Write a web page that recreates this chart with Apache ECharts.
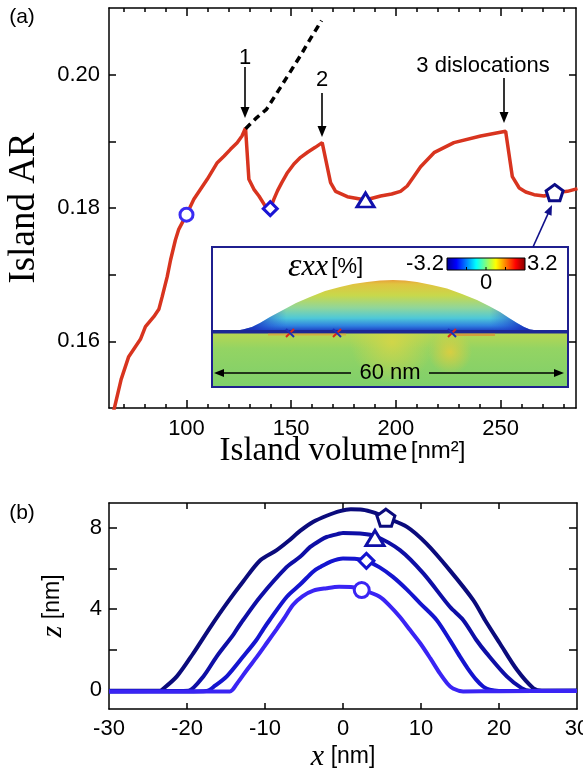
<!DOCTYPE html>
<html>
<head>
<meta charset="utf-8">
<script src="https://cdn.jsdelivr.net/npm/echarts@6/dist/echarts.min.js"></script>
<style>
html, body { margin: 0; padding: 0; background: #fff; }
#main { width: 583px; height: 776px; }
</style>
</head>
<body>
<div id="main"></div>
<script>
// ---- panel (a): island aspect ratio vs volume ----
var volume = [65.2, 68.8, 72.4, 75.6, 78.0, 80.4, 84.4, 86.8, 88.4, 90.8, 92.4, 94.7, 96.3, 100,
  103.5, 106.7, 109.9, 114.7, 118, 121.0, 124.2, 126.5, 128.2, 129.8, 132.2, 134.6, 138, 140,
  141.7, 143.5, 145.5, 148, 151.3, 154.5, 158, 161.5, 164.8, 168.8, 171.2, 176.8, 185.5, 192.7,
  198, 202.2, 205.4, 208.5, 211.8, 218.2, 227.7, 240.5, 252.4, 255.6, 258.9, 262, 266.0, 270.8,
  275.8, 281.9, 286.7];
var aspectRatio = [0.1495, 0.1543, 0.1577, 0.1592, 0.1603, 0.1622, 0.1637, 0.1648, 0.1667, 0.1697,
  0.1722, 0.1752, 0.1768, 0.1790, 0.1813, 0.1828, 0.1843, 0.1868, 0.1878, 0.1888, 0.1898, 0.1908,
  0.1920, 0.1843, 0.1828, 0.1818, 0.1801, 0.1799, 0.1813, 0.1826, 0.1838, 0.1852, 0.1866, 0.1876,
  0.1884, 0.1891, 0.1898, 0.1838, 0.1825, 0.1817, 0.1812, 0.1818, 0.1821, 0.1825, 0.1833, 0.1847,
  0.1862, 0.1883, 0.1898, 0.1908, 0.1915, 0.1847, 0.1830, 0.1824, 0.1820, 0.1818, 0.1823, 0.1825,
  0.1829];
// dislocation-free continuation
var dashVolume = [128.2, 133.0, 138.2, 144.9, 149.7, 154.5, 159.2, 164.5];
var dashAR = [0.1919, 0.1934, 0.1948, 0.1981, 0.2005, 0.2029, 0.2054, 0.2081];
var markVolume = [100, 140, 185.5, 275.8];
var markAR = [0.179, 0.1799, 0.1812, 0.1823];
var volTicks = [70, 80, 90, 100, 110, 120, 130, 140, 150, 160, 170, 180, 190, 200, 210, 220, 230, 240, 250, 260, 270, 280];
var volLabels = [100, 150, 200, 250];
var arTicks = [0.16, 0.17, 0.18, 0.19, 0.20];
var arLabels = [0.16, 0.18, 0.20];

// ---- panel (b): island profiles ----
var circX = [-30, -20, -14.5, -13.6, -12.3, -11, -9.7, -8.5, -7.6, -6.4, -5.2, -3.8, -2.1, -0.5, 1, 2.4, 4.7, 6.0, 7.3, 8.6, 9.9, 11.2, 12.4, 13.4, 14.1, 15.4, 20, 30];
var circZ = [-0.08, -0.08, -0.08, 0.3, 0.99, 1.65, 2.35, 3.0, 3.5, 4.2, 4.62, 4.9, 5.02, 5.09, 5.08, 4.95, 4.6, 4.15, 3.6, 2.95, 2.3, 1.55, 0.82, 0.3, 0.06, -0.08, -0.07, -0.06];
var diamX = [-30, -20, -17.5, -16.4, -14.9, -12.8, -11.1, -10.2, -9.4, -7.2, -5.5, -3.8, -2.9, -1.5, 0, 1.5, 3.0, 4.7, 6.4, 8.2, 9.9, 12.0, 13.7, 15.0, 16.0, 17.1, 18.0, 18.8, 20, 30];
var diamZ = [-0.08, -0.08, -0.06, 0.2, 0.66, 1.64, 2.46, 3.0, 3.45, 4.6, 5.2, 5.85, 6.07, 6.35, 6.49, 6.48, 6.37, 6.05, 5.58, 4.95, 4.27, 3.45, 2.45, 1.64, 1.05, 0.49, 0.15, 0.0, -0.06, -0.05];
var triX = [-30, -20.5, -19.8, -17.9, -16.2, -14.1, -13.6, -12.8, -10.6, -7.2, -5.5, -4.2, -2.9, -2.1, -0.4, 0, 2.2, 4.1, 7.3, 10.3, 13.7, 15.4, 17.1, 18.4, 21.0, 22.9, 24, 30];
var triZ = [-0.07, -0.06, -0.05, 0.66, 1.64, 2.7, 3.0, 3.45, 4.6, 6.07, 6.57, 7.06, 7.39, 7.55, 7.72, 7.75, 7.72, 7.6, 6.9, 5.75, 4.1, 3.45, 2.46, 1.81, 0.66, 0.08, -0.05, -0.05];
var pentX = [-30, -23.5, -23.2, -21.3, -19.2, -17.0, -14.9, -12.8, -10.6, -8.5, -7, -5.5, -3.8, -2.1, -0.4, 1.0, 2.5, 4.0, 5.5, 8.2, 10.7, 13.7, 16.7, 18.2, 20.1, 22.3, 24.4, 25.5, 30];
var pentZ = [-0.05, -0.05, 0.0, 0.66, 1.8, 3.1, 4.27, 5.35, 6.4, 6.9, 7.35, 7.85, 8.3, 8.6, 8.83, 8.92, 8.9, 8.75, 8.5, 8.05, 7.22, 5.9, 4.43, 3.45, 2.3, 0.99, 0.08, -0.05, -0.05];
var apexX = [2.4, 3.0, 4.1, 5.5];
var apexZ = [4.93, 6.37, 7.5, 8.5];
var posTicks = [-20, -10, 0, 10, 20];
var posLabels = [-30, -20, -10, 0, 10, 20, 30];
var zTicks = [0, 2, 4, 6, 8];
var zLabels = [0, 4, 8];

var SANS = 'Liberation Sans';
var SERIF = 'Liberation Serif';
var pentagon = 'path://M0,-10L9.51,-3.09L5.88,8.09L-5.88,8.09L-9.51,-3.09Z';
var symbols = ['circle', 'diamond', 'triangle', pentagon];
var markColors = ['#3b2cf3', '#1a14d4', '#1010ad', '#0c0c86'];
var lineColors = ['#3a24f4', '#1414cf', '#0e0ea6', '#0b0b7c'];
var sizesA = [13, 14, [17, 14], 17];
var sizesB = [15, 15, [18, 15], 18];

function zip(a, b) {
  return a.map(function (v, i) { return [v, b[i]]; });
}

function axis(grid, pos, min, max, ticks, len, labels, more) {
  var a = {
    type: 'value', gridIndex: grid, position: pos, min: min, max: max,
    nameMoveOverlap: false,
    axisLine: { show: true, onZero: false, lineStyle: { color: '#000', width: 1.5 } },
    axisTick: { show: true, inside: true, length: len, customValues: ticks, lineStyle: { color: '#000', width: 1.5 } },
    axisLabel: labels ? { show: true, customValues: labels, color: '#000', fontFamily: SANS, fontSize: 22, margin: 9 } : { show: false },
    splitLine: { show: false }
  };
  return Object.assign(a, more || {});
}

var xAxes = [
  axis(0, 'bottom', 63, 286, volLabels, 8, volLabels, {
    name: '{a|Island volume} {b|[nm²]}', nameLocation: 'middle', nameGap: 27,
    nameTextStyle: { rich: { a: { fontFamily: SERIF, fontSize: 33, color: '#000' }, b: { fontFamily: SANS, fontSize: 24, color: '#000' } } }
  }),
  axis(0, 'bottom', 63, 286, volTicks, 4, null, { axisLine: { show: false } }),
  axis(0, 'top', 63, 286, volLabels, 8, null),
  axis(0, 'top', 63, 286, volTicks, 4, null, { axisLine: { show: false } }),
  axis(1, 'bottom', -30, 30, posTicks, 6, posLabels, {
    name: '{i|x}  {b|[nm]}', nameLocation: 'middle', nameGap: 33,
    nameTextStyle: { rich: { i: { fontFamily: SERIF, fontStyle: 'italic', fontSize: 30, color: '#000' }, b: { fontFamily: SANS, fontSize: 23, color: '#000' } } }
  }),
  axis(1, 'top', -30, 30, posTicks, 6, null)
];
xAxes[0].axisLabel.margin = 10;
xAxes[4].axisLabel.margin = 9;

var yAxes = [
  axis(0, 'left', 0.15, 0.21, arTicks, 7, arLabels, {
    name: 'Island AR', nameLocation: 'middle', nameGap: 66,
    nameTextStyle: { fontFamily: SERIF, fontSize: 37, color: '#000' }
  }),
  axis(0, 'right', 0.15, 0.21, arTicks, 7, null),
  axis(1, 'left', -0.95, 9.23, zTicks, 8, zLabels, {
    name: '{i|z}  {b|[nm]}', nameLocation: 'middle', nameGap: 41,
    nameTextStyle: { rich: { i: { fontFamily: SERIF, fontStyle: 'italic', fontSize: 30, color: '#000' }, b: { fontFamily: SANS, fontSize: 23, color: '#000' } } }
  }),
  axis(1, 'right', -0.95, 9.23, zTicks, 8, null)
];
yAxes[0].axisLabel.formatter = function (v) { return v.toFixed(2); };
yAxes[0].axisLabel.margin = 9;
yAxes[2].axisLabel.margin = 7;

var series = [
  {
    type: 'line', xAxisIndex: 0, yAxisIndex: 0, data: zip(volume, aspectRatio),
    symbol: 'none', lineStyle: { color: '#d8341f', width: 3.5 }, z: 3
  },
  {
    type: 'line', xAxisIndex: 0, yAxisIndex: 0, data: zip(dashVolume, dashAR),
    symbol: 'none', lineStyle: { color: '#000', width: 3.5, type: [7, 5] }, z: 3
  }
];
markVolume.forEach(function (v, i) {
  series.push({
    type: 'scatter', xAxisIndex: 0, yAxisIndex: 0, data: [[v, markAR[i]]],
    symbol: symbols[i], symbolSize: sizesA[i], symbolKeepAspect: true,
    itemStyle: { color: '#fff', borderColor: markColors[i], borderWidth: 3, opacity: 1 }, z: 5
  });
});
var profiles = [zip(circX, circZ), zip(diamX, diamZ), zip(triX, triZ), zip(pentX, pentZ)];
[3, 2, 1, 0].forEach(function (i) {
  series.push({
    type: 'line', xAxisIndex: 4, yAxisIndex: 2, data: profiles[i], smooth: 0.3,
    symbol: 'none', lineStyle: { color: lineColors[i], width: 4 }, z: 3
  });
});
apexX.forEach(function (v, i) {
  series.push({
    type: 'scatter', xAxisIndex: 4, yAxisIndex: 2, data: [[v, apexZ[i]]],
    symbol: symbols[i], symbolSize: sizesB[i], symbolKeepAspect: true,
    itemStyle: { color: '#fff', borderColor: lineColors[i], borderWidth: 3, opacity: 1 }, z: 5
  });
});

// ---- annotations and strain-map inset ----
function txt(x, y, text, size, align, extra) {
  return {
    type: 'text', z: 20, x: x, y: y,
    style: Object.assign({ text: text, fontFamily: SANS, fontSize: size, fill: '#000', align: align || 'center', verticalAlign: 'middle' }, extra || {})
  };
}
function arrow(x1, y1, x2, y2, color, head, half) {
  var dx = x2 - x1, dy = y2 - y1, L = Math.sqrt(dx * dx + dy * dy);
  var ux = dx / L, uy = dy / L;
  var bx = x2 - ux * head, by = y2 - uy * head;
  return [
    { type: 'line', z: 20, shape: { x1: x1, y1: y1, x2: bx + ux * 1, y2: by + uy * 1 }, style: { stroke: color, lineWidth: 1.6 } },
    { type: 'polygon', z: 20, shape: { points: [[x2, y2], [bx - uy * half, by + ux * half], [bx + uy * half, by - ux * half]] }, style: { fill: color } }
  ];
}

var islandPts = [[234, 331], [243, 329.5], [252, 327], [260, 323], [270, 317], [283, 310], [296, 303], [310, 297],
  [325, 291], [340, 287], [353, 284], [367, 282], [380, 280.5], [393, 280], [405, 280.5], [417, 282],
  [432, 285], [447, 288.5], [462, 294], [477, 300], [489, 306], [500, 312], [509, 318], [517, 323],
  [524, 327], [530, 329.5], [542, 331]];
var coreX = [290, 337, 452];

var graphic = [
  txt(22, 17, '(a)', 21),
  txt(22, 513, '(b)', 21),
  txt(245, 58, '1', 22),
  txt(322, 80, '2', 22),
  txt(483, 66, '3 dislocations', 22)
].concat(
  arrow(245, 67, 245, 118, '#000', 11, 4.5),
  arrow(322, 93, 322, 137, '#000', 11, 4.5),
  arrow(504, 78, 504, 123, '#000', 11, 4.5),
  arrow(533, 247, 552, 205, '#10108a', 10, 4),
  [
    { type: 'rect', z: 10, shape: { x: 212, y: 247, width: 356, height: 140 }, style: { fill: '#fff', stroke: '#1f1f8f', lineWidth: 2 } },
    { type: 'rect', z: 11, shape: { x: 213, y: 333, width: 354, height: 53 },
      style: { fill: { type: 'linear', x: 0, y: 333, x2: 0, y2: 386, global: true,
        colorStops: [{ offset: 0, color: '#b7d652' }, { offset: 0.3, color: '#93d463' }, { offset: 1, color: '#80cf6b' }] } } },
    { type: 'circle', z: 11, shape: { cx: 392, cy: 342, r: 42 },
      style: { fill: { type: 'radial', x: 0.5, y: 0.5, r: 0.5,
        colorStops: [{ offset: 0, color: 'rgba(220,214,68,0.8)' }, { offset: 1, color: 'rgba(220,214,68,0)' }] } } },
    { type: 'circle', z: 11, shape: { cx: 450, cy: 352, r: 22 },
      style: { fill: { type: 'radial', x: 0.5, y: 0.5, r: 0.5,
        colorStops: [{ offset: 0, color: 'rgba(228,205,60,0.85)' }, { offset: 1, color: 'rgba(228,205,60,0)' }] } } },
    { type: 'polygon', z: 12, shape: { points: islandPts },
      style: { fill: { type: 'linear', x: 0, y: 280, x2: 0, y2: 331, global: true,
        colorStops: [{ offset: 0, color: '#e6a13a' }, { offset: 0.08, color: '#e0c440' }, { offset: 0.3, color: '#c8d84b' },
          { offset: 0.55, color: '#8fd69c' }, { offset: 0.75, color: '#4ec8d8' }, { offset: 0.9, color: '#2f80e0' }, { offset: 1, color: '#1d3cc0' }] } } },
    { type: 'polygon', z: 12, shape: { points: islandPts },
      style: { fill: { type: 'linear', x: 234, y: 0, x2: 542, y2: 0, global: true,
        colorStops: [{ offset: 0, color: 'rgba(18,24,150,1)' }, { offset: 0.07, color: 'rgba(25,50,190,0.75)' },
          { offset: 0.17, color: 'rgba(40,90,220,0)' }, { offset: 0.83, color: 'rgba(40,90,220,0)' },
          { offset: 0.93, color: 'rgba(25,50,190,0.75)' }, { offset: 1, color: 'rgba(18,24,150,1)' }] } } },
    { type: 'rect', z: 13, shape: { x: 213, y: 330, width: 354, height: 3.5 }, style: { fill: '#1c2894' } },
    { type: 'rect', z: 13, shape: { x: 268, y: 333.5, width: 78, height: 2 }, style: { fill: 'rgba(235,140,50,0.55)' } },
    { type: 'rect', z: 13, shape: { x: 455, y: 333.5, width: 40, height: 2.5 }, style: { fill: 'rgba(232,120,45,0.6)' } }
  ],
  coreX.reduce(function (acc, cx) {
    var cy = 333;
    return acc.concat([
      { type: 'line', z: 14, shape: { x1: cx - 4, y1: cy + 4, x2: cx + 4, y2: cy - 4 }, style: { stroke: '#d8261c', lineWidth: 2 } },
      { type: 'line', z: 14, shape: { x1: cx - 4, y1: cy - 4, x2: cx + 4, y2: cy + 4 }, style: { stroke: '#1b2fb8', lineWidth: 2 } }
    ]);
  }, []),
  [
    { type: 'rect', z: 15, shape: { x: 447, y: 258, width: 78, height: 12 },
      style: { stroke: '#000', lineWidth: 1, fill: { type: 'linear', x: 0, y: 0, x2: 1, y2: 0,
        colorStops: [{ offset: 0, color: '#00008f' }, { offset: 0.125, color: '#0000ff' }, { offset: 0.375, color: '#00ffff' },
          { offset: 0.625, color: '#ffff00' }, { offset: 0.875, color: '#ff0000' }, { offset: 1, color: '#800000' }] } } },
    { type: 'line', z: 16, shape: { x1: 466.5, y1: 270, x2: 466.5, y2: 267 }, style: { stroke: '#000', lineWidth: 1 } },
    { type: 'line', z: 16, shape: { x1: 486, y1: 270, x2: 486, y2: 267 }, style: { stroke: '#000', lineWidth: 1 } },
    { type: 'line', z: 16, shape: { x1: 505.5, y1: 270, x2: 505.5, y2: 267 }, style: { stroke: '#000', lineWidth: 1 } },
    txt(444, 264, '-3.2', 22, 'right'),
    txt(527, 264, '3.2', 22, 'left'),
    txt(486, 283, '0', 22),
    {
      type: 'text', z: 16, x: 288, y: 267,
      style: {
        text: '{e|ε}{s|xx} {p|[%]}', align: 'left', verticalAlign: 'middle',
        rich: {
          e: { fontFamily: SERIF, fontStyle: 'italic', fontSize: 34, fill: '#000' },
          s: { fontFamily: SERIF, fontStyle: 'italic', fontSize: 30, fill: '#000' },
          p: { fontFamily: SANS, fontSize: 22, fill: '#000' }
        }
      }
    },
    txt(390, 373, '60 nm', 22, 'center', { z: 16 })
  ],
  arrow(351, 373, 214, 373, '#000', 10, 4),
  arrow(429, 373, 564, 373, '#000', 10, 4)
);

var chart = echarts.init(document.getElementById('main'));
chart.setOption({
  animation: false,
  backgroundColor: '#fff',
  grid: [
    { left: 109, top: 8, right: 7, bottom: 368, outerBoundsMode: 'none' },
    { left: 109, top: 503, right: 6, bottom: 67, outerBoundsMode: 'none' }
  ],
  xAxis: xAxes,
  yAxis: yAxes,
  series: series,
  graphic: graphic
});
</script>
</body>
</html>
